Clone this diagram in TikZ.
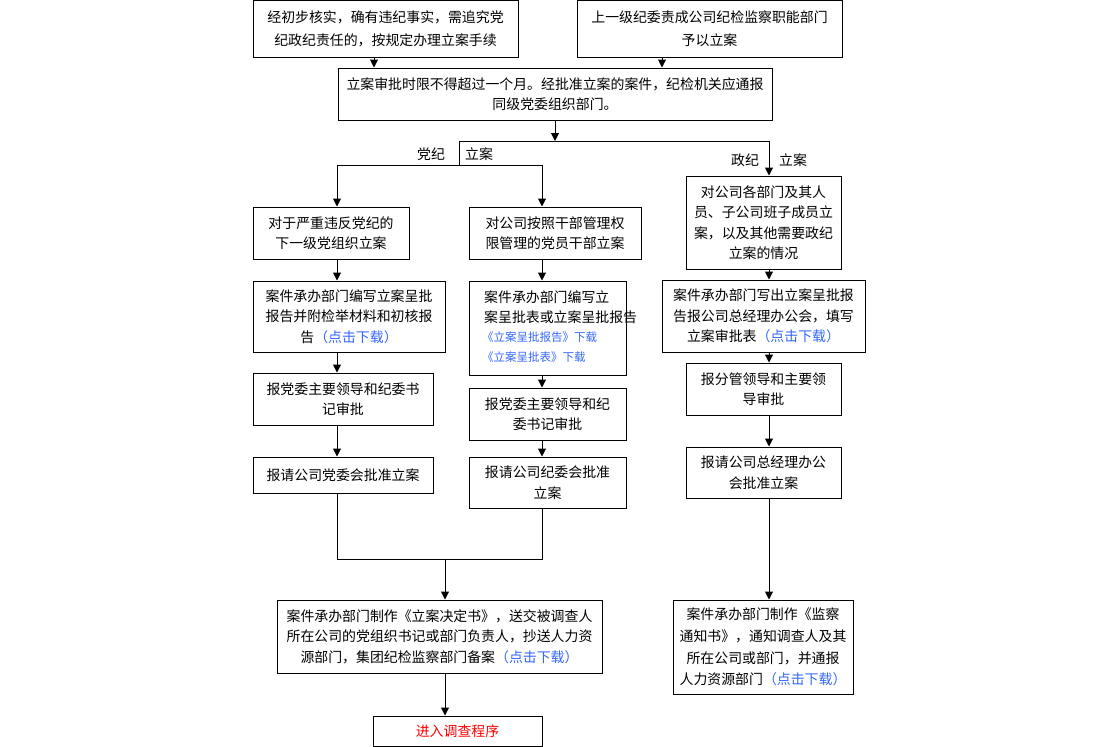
\documentclass[tikz,border=0pt]{standalone}
\usepackage{fontspec}
\setmainfont{Noto Sans CJK SC}
\usetikzlibrary{arrows.meta}
\definecolor{linkblue}{RGB}{51,102,255}
\definecolor{redtxt}{RGB}{255,0,0}
\newcommand{\lnk}[1]{\textcolor{linkblue}{#1}}
\begin{document}
\begin{tikzpicture}[x=1pt,y=-1pt,
  box/.style={draw=black, line width=1pt, inner sep=0pt, align=center,
    font=\fontsize{13.9}{20.5}\selectfont},
  arr/.style={-{Triangle[width=8pt,length=8pt]}, line width=1pt},
  ln/.style={line width=1pt},
  lbl/.style={font=\fontsize{13.9}{16}\selectfont, inner sep=0pt},
  etxt/.style={anchor=west, inner sep=0pt, font=\fontsize{13.9}{16}\selectfont},
  ltxt/.style={anchor=west, inner sep=0pt, font=\fontsize{11.5}{14}\selectfont, text=linkblue}]
\useasboundingbox (0,0) rectangle (1120,747);

% top boxes
\node[box, minimum width=265, minimum height=57, font=\fontsize{13.9}{23}\selectfont] (A) at (385.5,29)
  {经初步核实，确有违纪事实，需追究党\\纪政纪责任的，按规定办理立案手续};
\node[box, minimum width=265, minimum height=57, font=\fontsize{13.9}{23}\selectfont] (B) at (709.5,29)
  {上一级纪委责成公司纪检监察职能部门\\予以立案};
\node[box, minimum width=434, minimum height=52] (C) at (555,94)
  {立案审批时限不得超过一个月。经批准立案的案件，纪检机关应通报\\同级党委组织部门。};

% labels
\node[lbl] (l1) at (431,154) {党纪};
\node[lbl] (l2) at (479,154) {立案};
\node[lbl] (l3) at (745,160) {政纪};
\node[lbl] (l4) at (793,160) {立案};

% left column
\node[box, minimum width=156, minimum height=52] (D1) at (331,233)
  {对于严重违反党纪的\\下一级党组织立案};
\node[box, minimum width=192, minimum height=71] (E1) at (349,316.5)
  {案件承办部门编写立案呈批\\报告并附检举材料和初核报\\告\lnk{（点击下载）}};
\node[box, minimum width=180, minimum height=52] (F1) at (343,399)
  {报党委主要领导和纪委书\\记审批};
\node[box, minimum width=180, minimum height=36] (G1) at (343,475)
  {报请公司党委会批准立案};

% middle column
\node[box, minimum width=172, minimum height=52] (D2) at (555,233)
  {对公司按照干部管理权\\限管理的党员干部立案};
\node[box, minimum width=157, minimum height=94] (E2) at (547.5,328) {};
\node[etxt] (e2a) at (484,296.7) {案件承办部门编写立};
\node[etxt] (e2b) at (484,317) {案呈批表或立案呈批报告};
\node[ltxt] (e2c) at (482,336.7) {《立案呈批报告》下载};
\node[ltxt] (e2d) at (482,356.7) {《立案呈批表》下载};
\node[box, minimum width=157, minimum height=52] (F2) at (547.5,414)
  {报党委主要领导和纪\\委书记审批};
\node[box, minimum width=157, minimum height=51] (G2) at (547.5,482.5)
  {报请公司纪委会批准\\立案};

% bottom
\node[box, minimum width=325, minimum height=73] (H) at (439.5,636.5)
  {案件承办部门制作《立案决定书》，送交被调查人\\所在公司的党组织书记或部门负责人，抄送人力资\\源部门，集团纪检监察部门备案\lnk{（点击下载）}};
\node[box, minimum width=169, minimum height=30, text=redtxt] (I) at (457.5,731)
  {进入调查程序};

% right column
\node[box, minimum width=155, minimum height=93] (J1) at (763.5,222.5)
  {对公司各部门及其人\\员、子公司班子成员立\\案，以及其他需要政纪\\立案的情况};
\node[box, minimum width=203, minimum height=72] (J2) at (763.5,316)
  {案件承办部门写出立案呈批报\\告报公司总经理办公会，填写\\立案审批表\lnk{（点击下载）}};
\node[box, minimum width=155, minimum height=52] (J3) at (763.5,389)
  {报分管领导和主要领\\导审批};
\node[box, minimum width=155, minimum height=51] (J4) at (763.5,472.5)
  {报请公司总经理办公\\会批准立案};
\node[box, minimum width=180, minimum height=94, font=\fontsize{13.9}{21.7}\selectfont] (J5) at (763,647)
  {案件承办部门制作《监察\\通知书》，通知调查人及其\\所在公司或部门，并通报\\人力资源部门\lnk{（点击下载）}};

% coordinates
\coordinate (xa) at (374,0);
\coordinate (xb) at (662,0);
\coordinate (xL) at (337,0);
\coordinate (xM) at (542,0);
\coordinate (xR) at (769,0);
\coordinate (xH) at (445,0);
\coordinate (s1) at (555,141);
\coordinate (sl) at (459,141);
\coordinate (sr) at (769,141);
\coordinate (t1) at (459,165);
\coordinate (tL) at (337,165);
\coordinate (tM) at (542,165);
\coordinate (m1) at (337,559);
\coordinate (m2) at (542,559);
\coordinate (mh) at (445,559);

% connectors
\draw[arr] (A.south -| xa) -- (C.north -| xa);
\draw[arr] (B.south -| xb) -- (C.north -| xb);
\draw[arr] (C.south -| s1) -- (s1);
\draw[ln] (sl) -- (sr);
\draw[ln] (sl) -- (t1);
\draw[ln] (tL) -- (tM);
\draw[arr] (tL) -- (D1.north -| tL);
\draw[arr] (tM) -- (D2.north -| tM);
\draw[arr] (sr) -- (J1.north -| sr);

\draw[arr] (D1.south -| xL) -- (E1.north -| xL);
\draw[arr] (E1.south -| xL) -- (F1.north -| xL);
\draw[arr] (F1.south -| xL) -- (G1.north -| xL);
\draw[arr] (D2.south -| xM) -- (E2.north -| xM);
\draw[arr] (E2.south -| xM) -- (F2.north -| xM);
\draw[arr] (F2.south -| xM) -- (G2.north -| xM);
\draw[ln] (G1.south -| xL) -- (m1) -- (m2) -- (G2.south -| xM);
\draw[arr] (mh) -- (H.north -| mh);
\draw[arr] (H.south -| xH) -- (I.north -| xH);

\draw[arr] (J1.south -| xR) -- (J2.north -| xR);
\draw[arr] (J2.south -| xR) -- (J3.north -| xR);
\draw[arr] (J3.south -| xR) -- (J4.north -| xR);
\draw[arr] (J4.south -| xR) -- (J5.north -| xR);
\end{tikzpicture}
\end{document}
